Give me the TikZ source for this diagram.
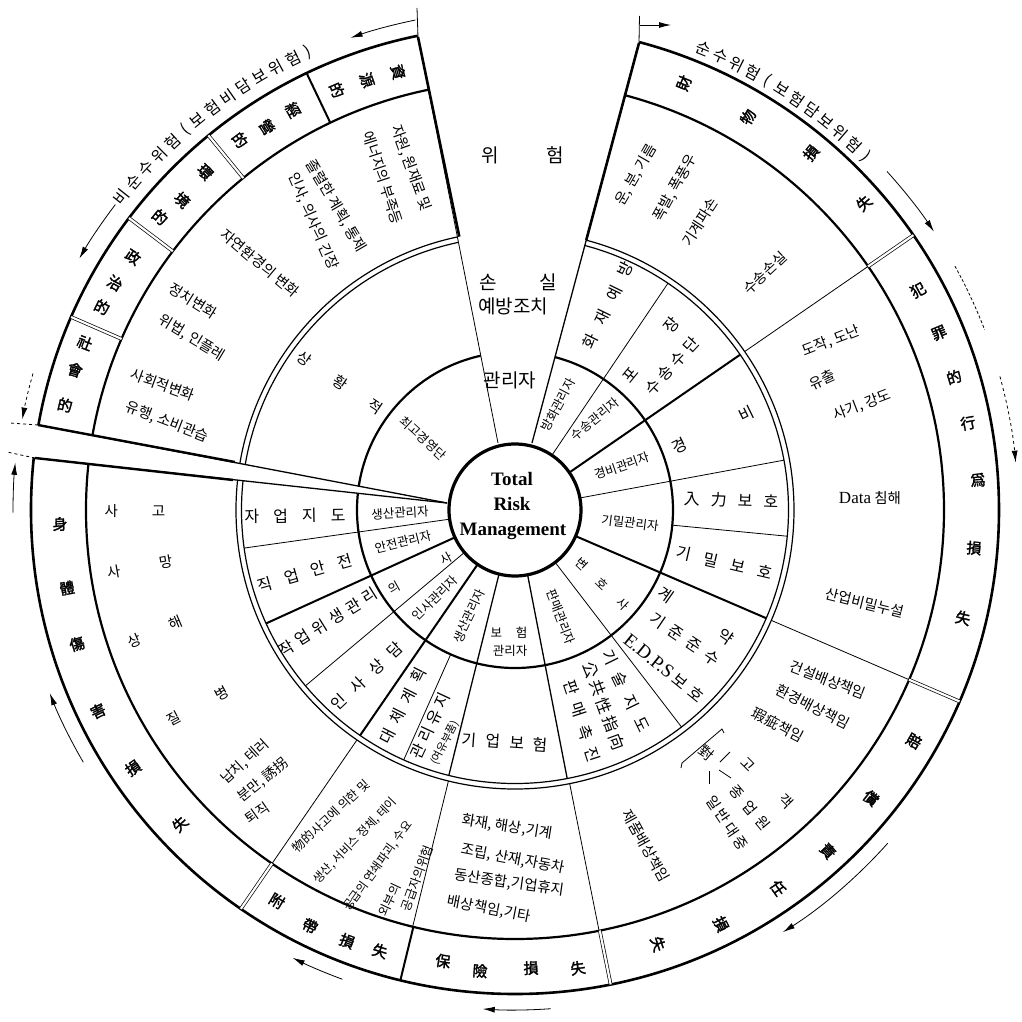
\documentclass[tikz,border=0pt]{standalone}
\usepackage{fontspec}
\setmainfont{Noto Sans CJK KR}
\newfontfamily\cjkb[FakeBold=2]{Noto Sans CJK KR}
\newfontfamily\lserif{Liberation Serif}
\usetikzlibrary{arrows.meta}
\makeatletter
\newcommand\ls[2]{\def\ls@g{\hspace{#1}}\ls@a#2\@nil}
\def\ls@a#1#2\@nil{#1\ifx\relax#2\relax\else\ls@g\ls@a#2\@nil\fi}
\makeatother
\begin{document}
\begin{tikzpicture}[x=1pt,y=1pt]
\tikzset{
 thinl/.style={line width=0.8pt},
 medl/.style={line width=1.3pt},
 thickl/.style={line width=2pt},
 dbl/.style={double, double distance=2.2pt, line width=0.7pt},
 mgr/.style={font=\fontsize{12.5}{14}\selectfont, inner sep=0pt},
 inr/.style={font=\fontsize{16}{18}\selectfont, inner sep=0pt},
 otr/.style={font=\fontsize{14.5}{16}\selectfont, inner sep=0pt},
 sml/.style={font=\fontsize{12.5}{14}\selectfont, inner sep=0pt},
 cat/.style={font=\cjkb\fontsize{15}{16}\selectfont, inner sep=0pt},
 wl/.style={font=\fontsize{19}{21}\selectfont, inner sep=0pt},
 arct/.style={font=\fontsize{16}{17}\selectfont, inner sep=0pt},
 ctr/.style={font=\lserif\bfseries\fontsize{19}{20}\selectfont, inner sep=0pt, anchor=base},
 arw/.style={line width=0.8pt, -{Latex[length=12pt,width=6pt]}},
}
\begin{scope}[shift={(-515pt,510pt)},y=-1pt]
\useasboundingbox (0,0) rectangle (1022,1021);
\end{scope}
% rings
\draw[line width=2.6pt] (0,0) circle (484pt);
\draw[line width=2.2pt] (0,0) circle (429pt);
\draw[line width=1.2pt] (0,0) circle (279pt);
\draw[line width=1.2pt] (0,0) circle (273.5pt);
\draw[line width=2.2pt] (0,0) circle (158pt);
% erase wedge and gap
\fill[white] (-17,67) -- (-98.5,481) -- (14,500) -- (126,475) -- (17,67) -- cycle;
\fill[white] (-68,7) -- (-485,86.5) -- (-488,53) -- cycle;
% wedge boundaries
\draw[thinl] (-17,67) -- (-97,473);
\draw[line width=2.6pt] (-97,473) -- (-55.7,273.4);
\draw[medl] (17,67) -- (124,467);
\draw[line width=2.6pt] (124,467) -- (71.3,270);
\draw[thinl] (-97,473) -- (-98,502);
\draw[thinl] (124,467) -- (124.5,494);
% gap boundaries
\draw[medl] (-68,7) -- (-477,85);
\draw[line width=2.4pt] (-477,85) -- (-280,48);
\draw[medl] (-68,7) -- (-480,52);
\draw[line width=2.4pt] (-480,52) -- (-282,30);
\draw[thinl,dashed] (-477,85) -- (-505,87);
\draw[thinl,dashed] (-480,52) -- (-508,58);
% radial lines
\draw[thinl] (56:66pt) -- (56:273.5pt);
\draw[thickl] (34.6:66pt) -- (34.6:273.5pt);
\draw[thinl] (34.6:279pt) -- (34.6:429pt);
\draw[thinl] (10.5:66pt) -- (10.5:273.5pt);
\draw[thinl] (-5.5:158pt) -- (-5.5:273.5pt);
\draw[thickl] (-23.3:66pt) -- (-23.3:273.5pt);
\draw[thinl] (-23.3:279pt) -- (-23.3:429pt);
\draw[thinl] (-52.5:66pt) -- (-52.5:273.5pt);
\draw[medl] (-79:66pt) -- (-79:273.5pt);
\draw[thinl] (-78.7:279pt) -- (-78.7:429pt);
\draw[medl] (-104:66pt) -- (-104:273.5pt);
\draw[thinl] (-103.8:279pt) -- (-103.8:429pt);
\draw[thinl] (-114:158pt) -- (-114:273.5pt);
\draw[thickl] (-124.5:66pt) -- (-124.5:273.5pt);
\draw[thinl] (-124.5:279pt) -- (-124.5:429pt);
\draw[thinl] (-140:66pt) -- (-140:273.5pt);
\draw[thickl] (-155.5:66pt) -- (-155.5:273.5pt);
\draw[thinl] (-172:66pt) -- (-172:273.5pt);
% band separators
\draw[dbl] (34.6:429pt) -- (34.6:484pt);
\draw[dbl] (-23.3:429pt) -- (-23.3:484pt);
\draw[dbl] (-78.6:429pt) -- (-78.6:484pt);
\draw[thickl] (-103.7:429pt) -- (-103.7:484pt);
\draw[dbl] (-124.5:429pt) -- (-124.5:484pt);
\draw[thickl] (115.5:429pt) -- (115.5:484pt);
\draw[dbl] (129.3:429pt) -- (129.3:484pt);
\draw[dbl] (142.9:429pt) -- (142.9:484pt);
\draw[dbl] (156.5:429pt) -- (156.5:484pt);
% centre circle
\draw[line width=3.2pt, fill=white] (0,0) circle (66pt);
% outer arrows
\draw[arw] (101.5:500pt) arc[start angle=101.5,end angle=109.2,radius=500pt];
\draw[arw] (142.6:503pt) arc[start angle=142.6,end angle=150,radius=503pt];
\draw[arw,dashed] (164.2:501pt) arc[start angle=164.2,end angle=169.6,radius=501pt];
\draw[arw] (180.3:502pt) arc[start angle=180.3,end angle=174.6,radius=502pt];
\draw[arw] (125,485) -- (156,485);
\draw[arw] (42.3:503pt) arc[start angle=42.3,end angle=33.6,radius=503pt];
\draw[thinl,densely dashed] (29:503pt) arc[start angle=29,end angle=21,radius=503pt];
\draw[arw,dashed] (15.4:503pt) arc[start angle=15.4,end angle=5.4,radius=503pt];
\draw[arw] (-41.8:500pt) arc[start angle=-41.8,end angle=-57.6,radius=500pt];
\draw[arw] (-85.9:500pt) arc[start angle=-85.9,end angle=-93.7,radius=500pt];
\draw[arw] (-110.2:500pt) arc[start angle=-110.2,end angle=-116.4,radius=500pt];
\draw[arw] (-149.7:500pt) arc[start angle=-149.7,end angle=-158.5,radius=500pt];
% arc texts
\foreach \c/\d [count=\i from 0] in {비/0,순/2.15,수/4.3,위/6.45,험/8.6,{(}/10.5,보/12.4,험/14.55,비/16.7,담/18.85,보/21,위/23.15,험/25.3,{)}/27.2} {
 \pgfmathsetmacro\ang{141.5-\d}
 \node[arct,rotate=\ang-90] (ta\i) at (\ang:503pt) {\c};
}
\foreach \c/\d [count=\i from 0] in {순/0,수/2.1,위/4.2,험/6.3,{(}/8.2,보/10.1,험/12.2,담/14.3,보/16.4,위/18.5,험/20.6,{)}/22.5} {
 \pgfmathsetmacro\ang{67.7-\d}
 \node[arct,rotate=\ang-90] (tb\i) at (\ang:498pt) {\c};
}
\begin{scope}[shift={(-515pt,510pt)},y=-1pt]
% centre
\node[ctr] (t1) at (512,485) {Total};
\node[ctr] (t2) at (512,510) {Risk};
\node[ctr] (t3) at (513,535) {Management};
% wedge labels
\node[wl] (w1) at (490,155) {위};
\node[wl] (w2) at (555,155) {험};
\node[wl] (w3) at (488,282) {손};
\node[wl] (w4) at (548,282) {실};
\node[wl] (w5) at (513,306) {예방조치};
\node[wl] (w6) at (510,380) {관리자};
% managers
\node[mgr,rotate=62] (m1) at (558,405) {방화관리자};
\node[mgr,rotate=40] (m2) at (595,419) {수송관리자};
\node[mgr,rotate=19] (m3) at (622,466) {경비관리자};
\node[mgr,rotate=-7] (m4) at (630,523) {기밀관리자};
\node[mgr,rotate=-44] (m5) at (602,584) {변\hspace{17pt}호\hspace{17pt}사};
\node[mgr,rotate=-69] (m6) at (561,617) {판매관리자};
\node[mgr] (m7) at (509,633) {보\hspace{14pt}험};
\node[mgr] (m8) at (510,651) {관리자};
\node[mgr,rotate=65] (m9) at (469,616) {생산관리자};
\node[mgr,rotate=45] (m10) at (435,598) {인사관리자};
\node[mgr,rotate=29] (m11) at (420,573) {의\hspace{48pt}사};
\node[mgr,rotate=14] (m12) at (403,542) {안전관리자};
\node[mgr,rotate=3] (m13) at (400,513) {생산관리자};
\node[mgr,rotate=-42] (m14) at (423,438) {최고경영단};
% inner ring
\node[inr,rotate=64] (i1) at (608,305) {\ls{12pt}{화재예방}};
\node[inr,rotate=51] (i2) at (651,350) {포\hspace{50pt}장};
\node[inr,rotate=47] (i3) at (672,366) {\ls{4pt}{수송수단}};
\node[inr,rotate=26] (i4) at (713,430) {경\hspace{60pt}비};
\node[inr,rotate=-2] (i5) at (731,500) {\ls{11pt}{入力보호}};
\node[inr,rotate=-13] (i6) at (725,563) {\ls{13pt}{기밀보호}};
\node[inr,rotate=-35] (i7) at (696,616) {계\hspace{58pt}약};
\node[inr,rotate=-34] (i8) at (685,639) {\ls{7pt}{기준준수}};
\node[inr,rotate=-39] (i9) at (664,668) {{\lserif\fontsize{19}{20}\selectfont E.D.P.S}\hspace{4pt}보\hspace{5pt}호};
\node[inr,rotate=-64] (i10) at (626,691) {\ls{10pt}{기술지도}};
\node[inr,rotate=-70] (i11) at (604,706) {\ls{3pt}{公共性指向}};
\node[inr,rotate=-72] (i12) at (582,721) {\ls{9pt}{판매촉진}};
\node[inr,rotate=-4] (i13) at (505,742) {\ls{9pt}{기업보험}};
\node[inr,rotate=63] (i14) at (403,706) {\ls{8pt}{대체계획}};
\node[inr,rotate=65] (i15) at (430,726) {\ls{4pt}{관리유지}};
\node[inr,rotate=63,font=\fontsize{11}{12}\selectfont] (i16) at (445,743) {(여유부품)};
\node[inr,rotate=43] (i17) at (367,676) {\ls{11pt}{인사상담}};
\node[inr,rotate=32] (i18) at (328,622) {\ls{5pt}{작업위생관리}};
\node[inr,rotate=16] (i19) at (305,573) {\ls{13pt}{직업안전}};
\node[inr,rotate=1] (i20) at (295,516) {\ls{14pt}{자업지도}};
\node[inr,rotate=-34,font=\fontsize{15}{16}\selectfont] (i21) at (340,383) {\ls{29pt}{상황적}};
% outer ring texts, upper left
\node[otr,rotate=-70] (o1) at (411,168) {자원, 원재료 및};
\node[otr,rotate=-72] (o2) at (383,178) {에너지의 부족등};
\node[otr,rotate=-59.5] (o3) at (336,206) {졸렬한 계획, 통제};
\node[otr,rotate=-66.5] (o4) at (313,221) {인사, 의사의 긴장};
\node[otr,rotate=-40] (o5) at (260,263) {자연환경의 변화};
\node[otr,rotate=-32] (o6) at (193,301) {정치변화};
\node[otr,rotate=-31] (o7) at (192,338) {위법, 인플레};
\node[otr,rotate=-20] (o8) at (163,385) {사회적변화};
\node[otr,rotate=-21] (o9) at (167,422) {유행, 소비관습};
% right
\node[otr,rotate=60] (o10) at (636,175) {운, 분, 기름};
\node[otr,rotate=61] (o11) at (675,188) {폭발, 폭풍우};
\node[otr,rotate=57] (o12) at (700,222) {기계파손};
\node[otr,rotate=43] (o13) at (765,273) {수송손실};
\node[otr,rotate=21] (o14) at (831,341) {도작, 도난};
\node[otr,rotate=25] (o15) at (822,380) {유출};
\node[otr,rotate=21] (o16) at (862,405) {사기, 강도};
\node[otr] (o17) at (870,498) {{\lserif\fontsize{17}{18}\selectfont Data} 침해};
\node[otr,rotate=-14] (o18) at (865,603) {산업비밀누설};
\node[otr,rotate=-21] (o19) at (828,680) {건설배상책임};
\node[otr,rotate=-27] (o20) at (813,707) {환경배상책임};
\node[otr,rotate=-28] (o21) at (778,725) {瑕疵책임};
\node[otr,rotate=-40] (o22) at (707,753) {對};
\draw[thinl] (724,733) -- (722,729) -- (682,763) -- (681,768);
\draw[thinl] (720,762) -- (730,752);
\draw[thinl] (719,770) -- (731,778);
\draw[thinl] (709,771) -- (709,784);
\node[otr,rotate=-45] (o23) at (767,783) {고\hspace{40pt}객};
\node[otr,rotate=-50] (o24) at (750,808) {\ls{7pt}{종업원}};
\node[otr,rotate=-56] (o25) at (727,823) {\ls{3pt}{일반대중}};
\node[otr,rotate=-61] (o26) at (646,846) {제품배상책임};
% insurance
\node[otr,rotate=-9] (o27) at (507,827) {화재, 해상,기계};
\node[otr,rotate=-11] (o28) at (513,859) {조립, 산재,자동차};
\node[otr,rotate=-8] (o29) at (509,883) {동산종합,기업휴지};
\node[otr,rotate=-11] (o30) at (489,909) {배상책임,기타};
% incidental
\node[sml,rotate=43] (o31) at (331,816) {物的사고에 의한 및};
\node[sml,rotate=46,font=\fontsize{12}{13}\selectfont] (o32) at (355,841) {생산, 서비스 정체, 테이};
\node[sml,rotate=54,font=\fontsize{12}{13}\selectfont] (o33) at (378,866) {공급의 연쇄파괴, 수요};
\node[sml,rotate=65] (o34) at (390,900) {외부의};
\node[sml,rotate=70] (o35) at (417,878) {공급자의위험};
% bodily
\node[otr] (o36) at (135,511) {사\hspace{34pt}고};
\node[otr,rotate=10] (o37) at (140,567) {사\hspace{39pt}망};
\node[otr,rotate=23] (o38) at (155,632) {상\hspace{32pt}해};
\node[otr,rotate=28] (o39) at (198,706) {질\hspace{41pt}병};
\node[otr,rotate=42,font=\fontsize{14}{15}\selectfont] (o40) at (245,762) {납치, 테러};
\node[otr,rotate=39,font=\fontsize{14}{15}\selectfont] (o41) at (263,780) {분만, 誘拐};
\node[otr,rotate=35,font=\fontsize{14}{15}\selectfont] (o42) at (257,813) {퇴직};
% category band
\node[cat,rotate=-75] (k1) at (398,72) {資};
\node[cat,rotate=-71] (k2) at (367,80) {源};
\node[cat,rotate=-67] (k3) at (337,90) {的};
\node[cat,rotate=-61] (k4) at (293,110) {經};
\node[cat,rotate=-57] (k5) at (267,127) {營};
\node[cat,rotate=-53] (k6) at (240,140) {的};
\node[cat,rotate=-47.5] (k7) at (205,172) {環};
\node[cat,rotate=-43] (k8) at (182,200) {境};
\node[cat,rotate=-39.5] (k9) at (160,217) {的};
\node[cat,rotate=-33.5] (k10) at (133,257) {政};
\node[cat,rotate=-29.6] (k11) at (115,283) {治};
\node[cat,rotate=-26] (k12) at (102,307) {的};
\node[cat,rotate=-21] (k13) at (85,343) {社};
\node[cat,rotate=-17.7] (k14) at (75,370) {會};
\node[cat,rotate=-13] (k15) at (65,405) {的};
\node[cat,rotate=68] (k16) at (684,83) {財};
\node[cat,rotate=59] (k17) at (748,117) {物};
\node[cat,rotate=50] (k18) at (811,153) {損};
\node[cat,rotate=41] (k19) at (864,203) {失};
\node[cat,rotate=28.6] (k20) at (918,290) {犯};
\node[cat,rotate=22.7] (k21) at (939,333) {罪};
\node[cat,rotate=16.9] (k22) at (954,377) {的};
\node[cat,rotate=10.9] (k23) at (968,423) {行};
\node[cat,rotate=3.7] (k24) at (978,480) {爲};
\node[cat,rotate=-4.7] (k25) at (974,548) {損};
\node[cat,rotate=-13.6] (k26) at (963,618) {失};
\node[cat,rotate=-30] (k27) at (914,741) {賠};
\node[cat,rotate=-39] (k28) at (871,798) {償};
\node[cat,rotate=-47.5] (k29) at (828,851) {責};
\node[cat,rotate=-55] (k30) at (778,888) {任};
\node[cat,rotate=-63.5] (k31) at (721,924) {損};
\node[cat,rotate=-72] (k32) at (658,944) {失};
\node[cat,rotate=-9] (k33) at (443,961) {保};
\node[cat,rotate=-4] (k34) at (480,971) {險};
\node[cat,rotate=2] (k35) at (531,968) {損};
\node[cat,rotate=8] (k36) at (578,968) {失};
\node[cat,rotate=-31] (k37) at (277,901) {附};
\node[cat,rotate=-26] (k38) at (310,926) {帶};
\node[cat,rotate=-21] (k39) at (347,941) {損};
\node[cat,rotate=-17] (k40) at (380,951) {失};
\node[cat,rotate=2] (k41) at (60,524) {身};
\node[cat,rotate=10] (k42) at (67,588) {體};
\node[cat,rotate=17] (k43) at (77,644) {傷};
\node[cat,rotate=26] (k44) at (98,711) {害};
\node[cat,rotate=34] (k45) at (133,768) {損};
\node[cat,rotate=43] (k46) at (180,824) {失};
\end{scope}
\end{tikzpicture}
\end{document}
